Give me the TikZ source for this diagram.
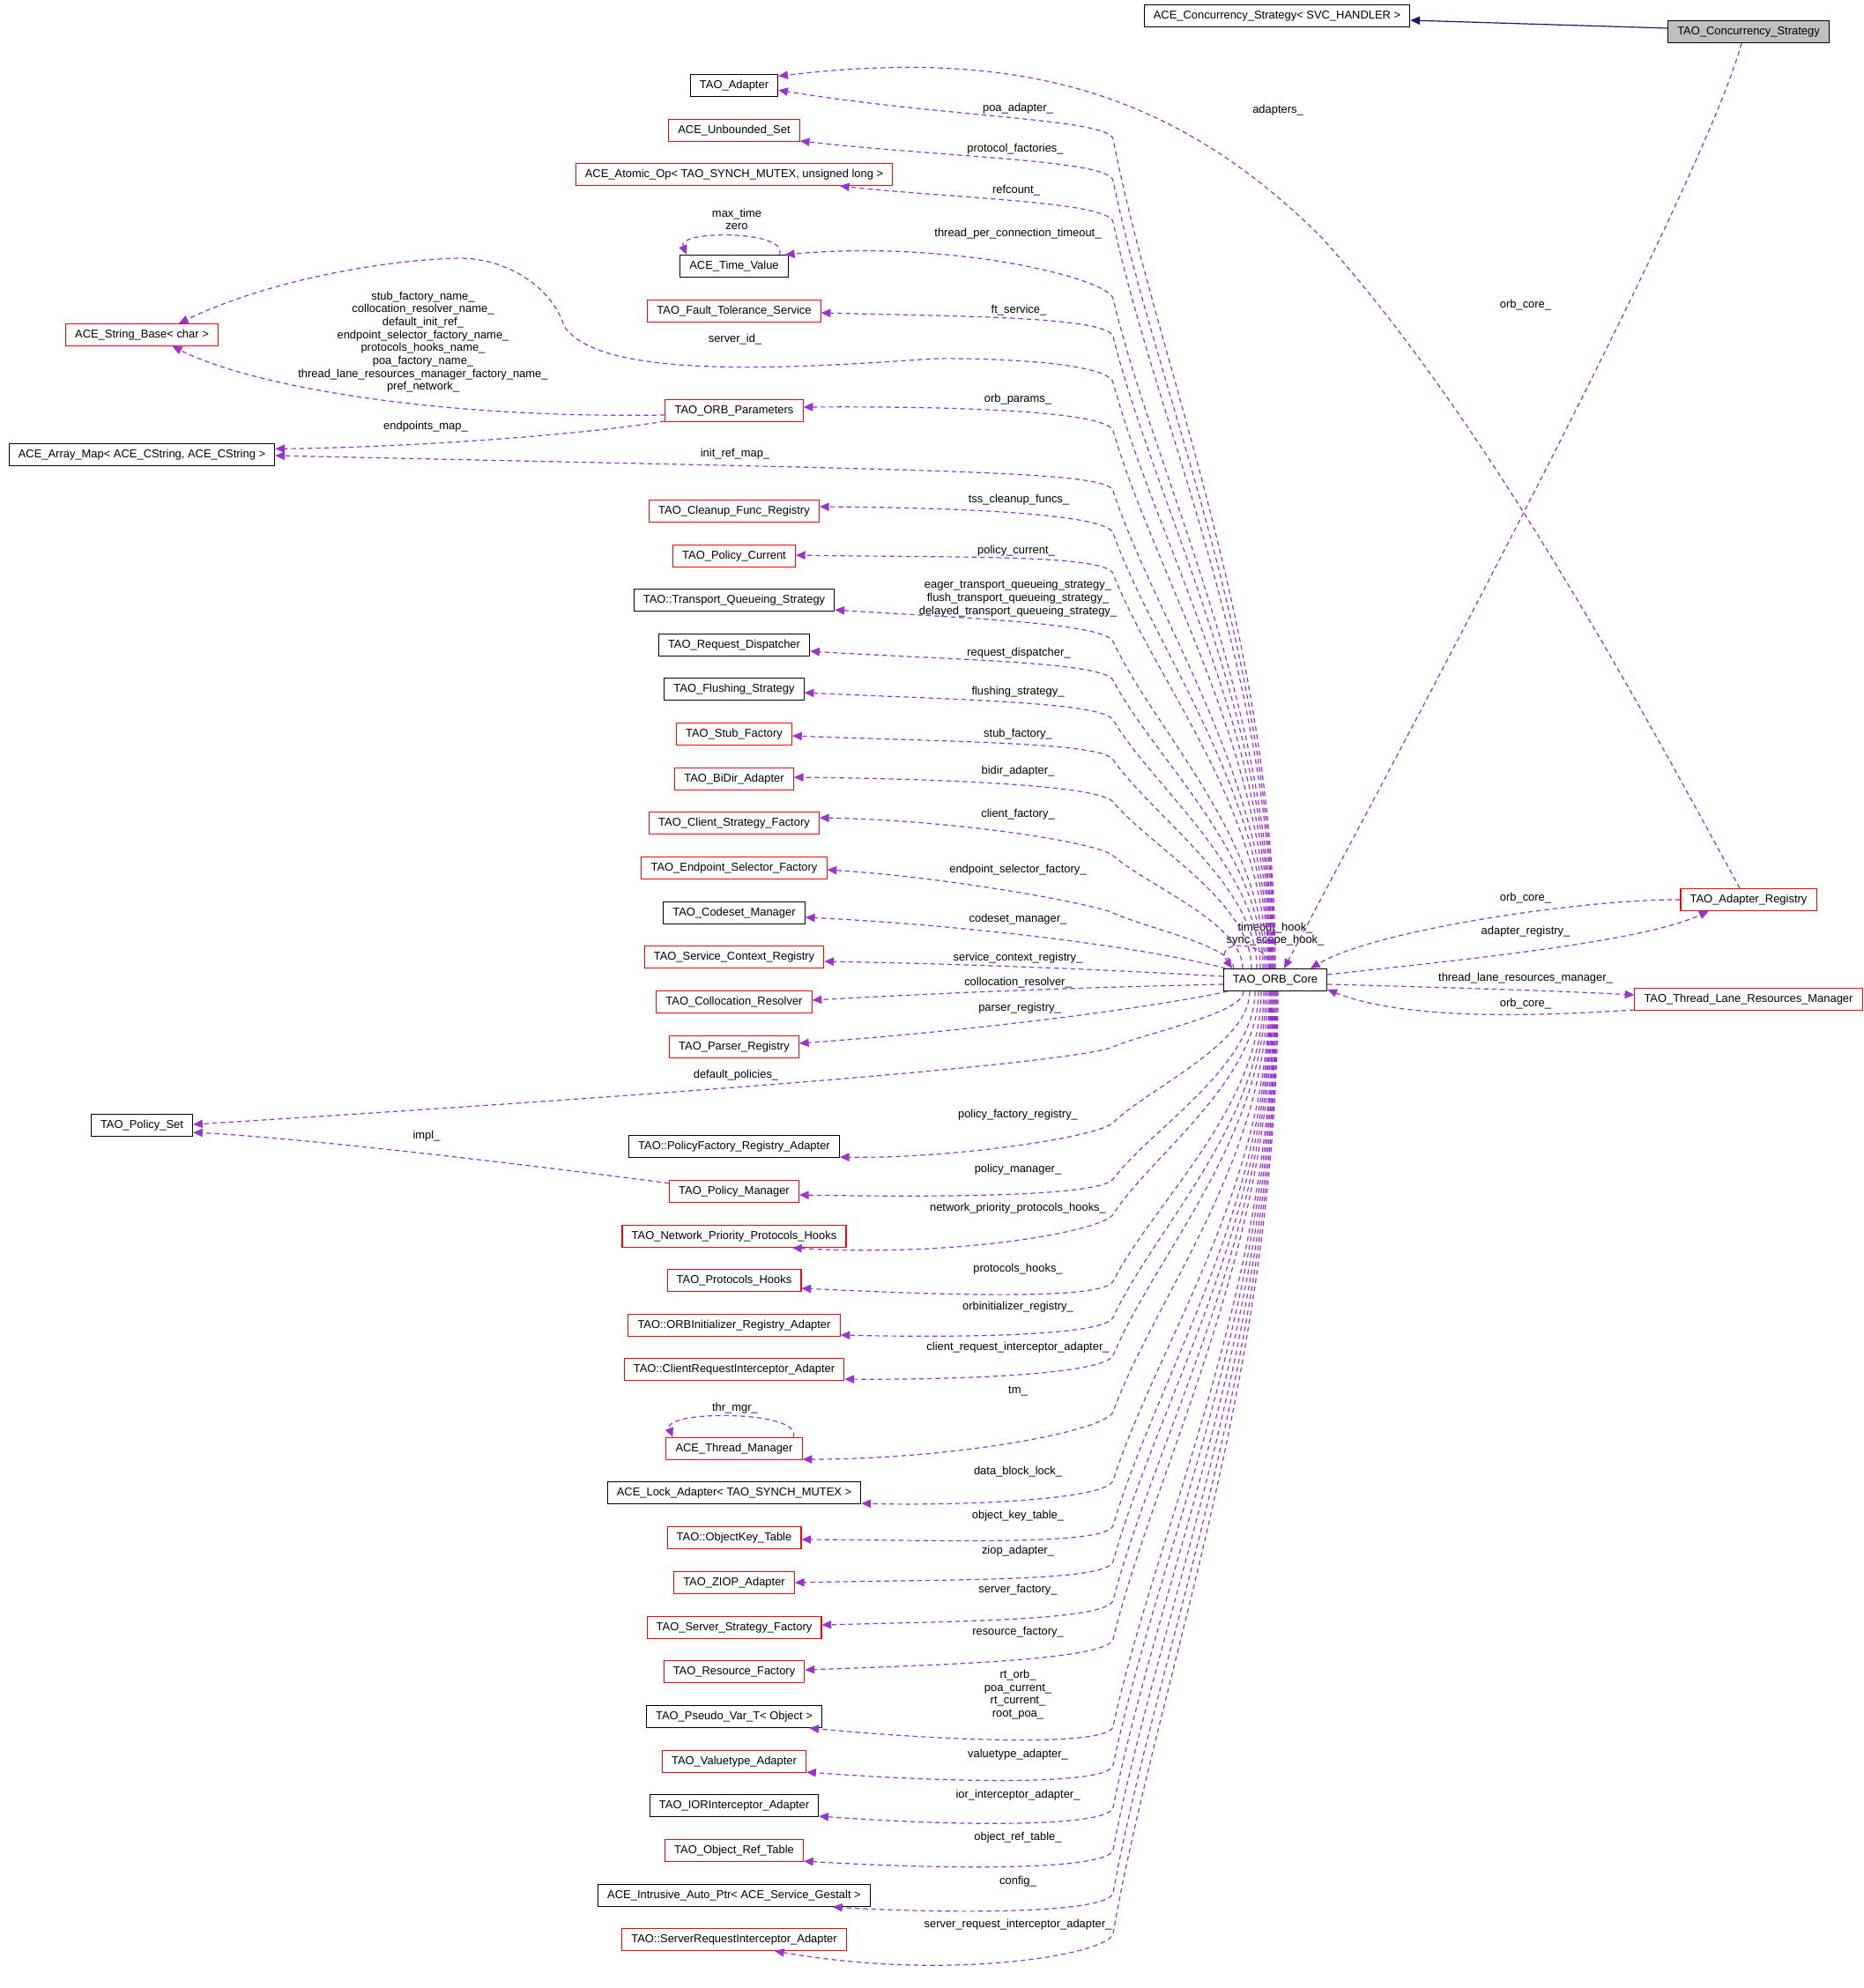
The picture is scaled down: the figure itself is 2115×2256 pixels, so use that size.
\documentclass[tikz,border=0pt]{standalone}
\usepackage{fontspec}
\setmainfont{Liberation Sans}
\usetikzlibrary{arrows.meta,calc}
\definecolor{mcol}{HTML}{9A32CD}
\definecolor{icol}{HTML}{191970}
\definecolor{gfill}{HTML}{BFBFBF}
\newcommand\lblf{\fontsize{9.7pt}{11pt}\selectfont}
\newcommand\EdgeUp[4]{\draw[mbr] ($(core.north)+({#1-1447},0)$) .. controls (#1,{1099-0.4*(1099-#2)}) and ($(1263,#2)!0.27!(#1,1099)$) .. (1263,#2) .. controls ($(1263,#2)!-18pt!(#1,1099)$) and (1080,#3) .. #4;}
\newcommand\EdgeDown[4]{\draw[mbr] ($(core.south)+({#1-1447},0)$) .. controls (#1,{1125+0.4*(#2-1125)}) and ($(1263,#2)!0.27!(#1,1125)$) .. (1263,#2) .. controls ($(1263,#2)!-18pt!(#1,1125)$) and (1080,#3) .. #4;}
\tikzset{
  box/.style={draw=black, fill=white, line width=0.8pt, minimum height=18.75pt, inner xsep=8pt, inner ysep=0pt, font=\lblf, text height=7pt, text depth=2.3pt},
  rbox/.style={box, draw=red},
  gbox/.style={box, fill=gfill},
  lab/.style={font=\lblf, inner sep=0pt, align=center},
  mbr/.style={draw=mcol, line width=0.9pt, dash pattern=on 4pt off 3pt, -{Triangle[length=8pt,width=7pt]}},
  inh/.style={draw=icol, line width=0.9pt, -{Triangle[length=8pt,width=7pt]}},
}
\begin{document}
\begin{tikzpicture}[x=0.75pt,y=-0.75pt]
\fill[white] (0,0) rectangle (2115,2256);
\useasboundingbox (0,0) rectangle (2115,2256);
% ---- nodes ----
\node[box]  (acs)     at (1449,18)  {ACE\_Concurrency\_Strategy< SVC\_HANDLER >};
\node[gbox] (tcs)     at (1984,36)  {TAO\_Concurrency\_Strategy};
\node[box]  (adapter) at (833,97)   {TAO\_Adapter};
\node[rbox] (unbset)  at (833,148)  {ACE\_Unbounded\_Set};
\node[rbox] (atomic)  at (833,198)  {ACE\_Atomic\_Op< TAO\_SYNCH\_MUTEX, unsigned long >};
\node[box]  (timev)   at (833,302)  {ACE\_Time\_Value};
\node[rbox] (ftserv)  at (833,353)  {TAO\_Fault\_Tolerance\_Service};
\node[rbox] (strbase) at (161,380)  {ACE\_String\_Base< char >};
\node[rbox] (orbparams) at (833,466) {TAO\_ORB\_Parameters};
\node[box]  (arrmap)  at (161,516)  {ACE\_Array\_Map< ACE\_CString, ACE\_CString >};
\node[rbox] (cleanup) at (833,580)  {TAO\_Cleanup\_Func\_Registry};
\node[rbox] (polcur)  at (833,631)  {TAO\_Policy\_Current};
\node[box]  (tqs)     at (833,681)  {TAO::Transport\_Queueing\_Strategy};
\node[box]  (reqdisp) at (833,732)  {TAO\_Request\_Dispatcher};
\node[box]  (flush)   at (833,782)  {TAO\_Flushing\_Strategy};
\node[rbox] (stubf)   at (833,833)  {TAO\_Stub\_Factory};
\node[rbox] (bidir)   at (833,884)  {TAO\_BiDir\_Adapter};
\node[rbox] (csf)     at (833,934)  {TAO\_Client\_Strategy\_Factory};
\node[rbox] (esf)     at (833,985)  {TAO\_Endpoint\_Selector\_Factory};
\node[box]  (codeset) at (833,1036) {TAO\_Codeset\_Manager};
\node[rbox] (scr)     at (833,1086) {TAO\_Service\_Context\_Registry};
\node[box]  (core)    at (1447,1112) {TAO\_ORB\_Core};
\node[rbox] (areg)    at (1984,1021) {TAO\_Adapter\_Registry};
\node[rbox] (tlrm)    at (1984,1134) {TAO\_Thread\_Lane\_Resources\_Manager};
\node[rbox] (collres) at (833,1137) {TAO\_Collocation\_Resolver};
\node[rbox] (parser)  at (833,1188) {TAO\_Parser\_Registry};
\node[box]  (polset)  at (161,1277) {TAO\_Policy\_Set};
\node[box]  (pfra)    at (833,1301) {TAO::PolicyFactory\_Registry\_Adapter};
\node[rbox] (polman)  at (833,1352) {TAO\_Policy\_Manager};
\node[rbox] (npph)    at (833,1403) {TAO\_Network\_Priority\_Protocols\_Hooks};
\node[rbox] (phooks)  at (833,1453) {TAO\_Protocols\_Hooks};
\node[rbox] (orbinit) at (833,1504) {TAO::ORBInitializer\_Registry\_Adapter};
\node[rbox] (cria)    at (833,1554) {TAO::ClientRequestInterceptor\_Adapter};
\node[rbox] (thrmgr)  at (833,1644) {ACE\_Thread\_Manager};
\node[box]  (lockad)  at (833,1694) {ACE\_Lock\_Adapter< TAO\_SYNCH\_MUTEX >};
\node[rbox] (okt)     at (833,1745) {TAO::ObjectKey\_Table};
\node[rbox] (ziop)    at (833,1796) {TAO\_ZIOP\_Adapter};
\node[rbox] (ssf)     at (833,1847) {TAO\_Server\_Strategy\_Factory};
\node[rbox] (resf)    at (833,1897) {TAO\_Resource\_Factory};
\node[box]  (pseudo)  at (833,1948) {TAO\_Pseudo\_Var\_T< Object >};
\node[rbox] (valuet)  at (833,1999) {TAO\_Valuetype\_Adapter};
\node[box]  (iorint)  at (833,2049) {TAO\_IORInterceptor\_Adapter};
\node[rbox] (ort)     at (833,2100) {TAO\_Object\_Ref\_Table};
\node[box]  (iap)     at (833,2151) {ACE\_Intrusive\_Auto\_Ptr< ACE\_Service\_Gestalt >};
\node[rbox] (sria)    at (833,2201) {TAO::ServerRequestInterceptor\_Adapter};
% ---- labels ----
\node[lab] (l01) at (1155,123) {poa\_adapter\_};
\node[lab] (l02) at (1450,125) {adapters\_};
\node[lab] (l03) at (1152,169) {protocol\_factories\_};
\node[lab] (l04) at (1153,216) {refcount\_};
\node[lab] (l05) at (836,249) {max\_time\\zero};
\node[lab] (l06) at (1155,265) {thread\_per\_connection\_timeout\_};
\node[lab] (l07) at (1731,346) {orb\_core\_};
\node[lab] (l08) at (1156,352) {ft\_service\_};
\node[lab] (l09) at (480,388) {stub\_factory\_name\_\\collocation\_resolver\_name\_\\default\_init\_ref\_\\endpoint\_selector\_factory\_name\_\\protocols\_hooks\_name\_\\poa\_factory\_name\_\\thread\_lane\_resources\_manager\_factory\_name\_\\pref\_network\_};
\node[lab] (l10) at (834,385) {server\_id\_};
\node[lab] (l11) at (1155,453) {orb\_params\_};
\node[lab] (l12) at (483,484) {endpoints\_map\_};
\node[lab] (l13) at (834,515) {init\_ref\_map\_};
\node[lab] (l14) at (1156,567) {tss\_cleanup\_funcs\_};
\node[lab] (l15) at (1153,625) {policy\_current\_};
\node[lab] (l16) at (1155,679) {eager\_transport\_queueing\_strategy\_\\flush\_transport\_queueing\_strategy\_\\delayed\_transport\_queueing\_strategy\_};
\node[lab] (l17) at (1156,741) {request\_dispatcher\_};
\node[lab] (l18) at (1155,785) {flushing\_strategy\_};
\node[lab] (l19) at (1155,833) {stub\_factory\_};
\node[lab] (l20) at (1155,875) {bidir\_adapter\_};
\node[lab] (l21) at (1155,924) {client\_factory\_};
\node[lab] (l22) at (1155,987) {endpoint\_selector\_factory\_};
\node[lab] (l23) at (1731,1019) {orb\_core\_};
\node[lab] (l24) at (1155,1043) {codeset\_manager\_};
\node[lab] (l25) at (1447,1060) {timeout\_hook\_\\sync\_scope\_hook\_};
\node[lab] (l26) at (1731,1057) {adapter\_registry\_};
\node[lab] (l27) at (1155,1087) {service\_context\_registry\_};
\node[lab] (l28) at (1731,1110) {thread\_lane\_resources\_manager\_};
\node[lab] (l29) at (1155,1115) {collocation\_resolver\_};
\node[lab] (l30) at (1731,1139) {orb\_core\_};
\node[lab] (l31) at (1157,1144) {parser\_registry\_};
\node[lab] (l32) at (835,1220) {default\_policies\_};
\node[lab] (l33) at (1155,1265) {policy\_factory\_registry\_};
\node[lab] (l34) at (484,1289) {impl\_};
\node[lab] (l35) at (1155,1327) {policy\_manager\_};
\node[lab] (l36) at (1155,1371) {network\_priority\_protocols\_hooks\_};
\node[lab] (l37) at (1155,1440) {protocols\_hooks\_};
\node[lab] (l38) at (1155,1483) {orbinitializer\_registry\_};
\node[lab] (l39) at (1155,1529) {client\_request\_interceptor\_adapter\_};
\node[lab] (l40) at (1155,1579) {tm\_};
\node[lab] (l41) at (834,1598) {thr\_mgr\_};
\node[lab] (l42) at (1155,1670) {data\_block\_lock\_};
\node[lab] (l43) at (1155,1720) {object\_key\_table\_};
\node[lab] (l44) at (1155,1760) {ziop\_adapter\_};
\node[lab] (l45) at (1155,1804) {server\_factory\_};
\node[lab] (l46) at (1155,1852) {resource\_factory\_};
\node[lab] (l47) at (1155,1923) {rt\_orb\_\\poa\_current\_\\rt\_current\_\\root\_poa\_};
\node[lab] (l48) at (1155,1991) {valuetype\_adapter\_};
\node[lab] (l49) at (1155,2037) {ior\_interceptor\_adapter\_};
\node[lab] (l50) at (1155,2085) {object\_ref\_table\_};
\node[lab] (l51) at (1155,2135) {config\_};
\node[lab] (l52) at (1155,2184) {server\_request\_interceptor\_adapter\_};
% ---- inheritance ----
\draw[inh] ([yshift=3pt]tcs.west) -- ([yshift=-3.75pt]acs.east);
% ---- edges to the core ----
\draw[mbr] ([xshift=-6pt]tcs.south) .. controls (1930,220) and (1530,960) .. ($(core.north)+(10,0)$);
\draw[mbr] (areg.west) .. controls (1800,1020) and (1560,1055) .. ($(core.north)+(40,0)$);
\draw[mbr] ([yshift=-9pt]tlrm.west) .. controls (1760,1152) and (1600,1160) .. ($(core.east)+(0,11)$);
\draw[mbr] ($(core.north)+(-5,0)$) .. controls (1440,1066) and (1375,1066) .. ($(core.north)+(-49,0)$);
% ---- core to right nodes ----
\draw[mbr] ($(core.east)+(0,-6)$) .. controls (1650,1090) and (1860,1070) .. ([xshift=-34pt]areg.south);
\draw[mbr] ($(core.east)+(0,5)$) .. controls (1620,1120) and (1760,1124) .. ([yshift=3.75pt]tlrm.west);
\draw[mbr] ([xshift=-7.5pt]areg.north) .. controls (1850,780) and (1680,470) .. (1500,270) .. controls (1330,100) and (1150,55) .. ([yshift=8pt]adapter.east);
% ---- self loops ----
\draw[mbr] ([xshift=-8pt]timev.north east) .. controls +(12,-28) and +(-12,-28) .. ([xshift=6pt]timev.north west);
\draw[mbr] ([xshift=-8pt]thrmgr.north east) .. controls +(12,-31) and +(-12,-31) .. ([xshift=6pt]thrmgr.north west);
% ---- left side ----
\draw[mbr] ([yshift=-3.75pt]orbparams.west) .. controls (500,475) and (290,440) .. ([xshift=26pt]strbase.south);
\draw[mbr] ([yshift=-9pt]orbparams.west) .. controls (650,495) and (450,508) .. ([yshift=5pt]arrmap.east);
\draw[mbr] ([yshift=7pt]polman.west) .. controls (600,1322) and (350,1292) .. ([yshift=-6pt]polset.east);
% ---- upper fan ----
\EdgeUp{1447}{158}{134}{([yshift=-4pt]adapter.east)}
\EdgeUp{1446}{205}{179}{([yshift=-9pt]unbset.east)}
\EdgeUp{1445}{252}{225}{([xshift=90pt]atomic.south)}
\EdgeUp{1444}{339}{272}{([xshift=-3pt]timev.north east)}
\EdgeUp{1443}{382}{359}{([yshift=-1.5pt]ftserv.east)}
\draw[mbr] ($(core.north)+(-5,0)$) .. controls (1442,{1099-0.4*(1099-434)}) and ($(1263,434)!0.27!(1442,1099)$) .. (1263,434) .. controls ($(1263,434)!-18pt!(1442,1099)$) and (1120,406) .. (1060,407) .. controls (900,418) and (680,432) .. (640,370) .. controls (628,330) and (580,293) .. (521,293) .. controls (430,295) and (300,320) .. ([xshift=31.5pt]strbase.north);
\EdgeUp{1441}{489}{461}{([yshift=3pt]orbparams.east)}
\EdgeUp{1440}{557}{534}{([yshift=-0.75pt]arrmap.east)}
\EdgeUp{1439}{605}{576}{([yshift=3.75pt]cleanup.east)}
\EdgeUp{1437}{651}{633}{([yshift=0.75pt]polcur.east)}
\EdgeUp{1435}{728}{701}{([yshift=-8.25pt]tqs.east)}
\EdgeUp{1433}{772}{749}{([yshift=-5.25pt]reqdisp.east)}
\EdgeUp{1430}{817}{794}{([yshift=-3pt]flush.east)}
\EdgeUp{1426}{862}{842}{([yshift=-1.5pt]stubf.east)}
\EdgeUp{1420}{910}{884}{([yshift=1.5pt]bidir.east)}
\EdgeUp{1410}{971}{931}{([yshift=4.5pt]csf.east)}
\EdgeUp{1400}{1036}{996}{([yshift=-1.5pt]esf.east)}
\draw[mbr] ($(core.north west)+(3,0)$) .. controls (1300,1075) and (1100,1050) .. ([yshift=-3.75pt]codeset.east);
\draw[mbr] ($(core.west)+(0,-4)$) .. controls (1250,1100) and (1100,1094) .. ([yshift=-3.75pt]scr.east);
\draw[mbr] ($(core.west)+(0,5)$) .. controls (1250,1120) and (1100,1125) .. ([yshift=1.5pt]collres.east);
\draw[mbr] ($(core.south west)+(5,0)$) .. controls (1300,1145) and (1100,1170) .. ([yshift=3pt]parser.east);
% ---- lower fan ----
\EdgeDown{1411}{1188}{1222}{([yshift=0.75pt]polset.east)}
\EdgeDown{1418}{1274}{1315}{([yshift=-9pt]pfra.east)}
\EdgeDown{1424}{1338}{1359}{([yshift=-3pt]polman.east)}
\EdgeDown{1428}{1378}{1427}{([xshift=49.5pt]npph.south)}
\EdgeDown{1431}{1454}{1470}{([yshift=-6.75pt]phooks.east)}
\EdgeDown{1434}{1495}{1518}{([yshift=-8.25pt]orbinit.east)}
\EdgeDown{1436}{1538}{1566}{([yshift=-8.25pt]cria.east)}
\EdgeDown{1438}{1602}{1656}{([yshift=-9pt]thrmgr.east)}
\EdgeDown{1440}{1680}{1709}{([yshift=-9pt]lockad.east)}
\EdgeDown{1441}{1731}{1748}{([yshift=-1.5pt]okt.east)}
\EdgeDown{1442}{1772}{1792}{(ziop.east)}
\EdgeDown{1443}{1816}{1840}{([yshift=2.25pt]ssf.east)}
\EdgeDown{1444}{1860}{1889}{([yshift=1.5pt]resf.east)}
\EdgeDown{1445}{1959}{1976}{([xshift=64pt]pseudo.south)}
\EdgeDown{1446}{2003}{2023}{([yshift=-9pt]valuet.east)}
\EdgeDown{1447}{2051}{2072}{([yshift=-9pt]iorint.east)}
\EdgeDown{1448}{2099}{2122}{([yshift=-9pt]ort.east)}
\EdgeDown{1449}{2148}{2172}{([xshift=84pt]iap.south)}
\EdgeDown{1450}{2194}{2249}{([xshift=34.5pt]sria.south)}
\end{tikzpicture}
\end{document}
